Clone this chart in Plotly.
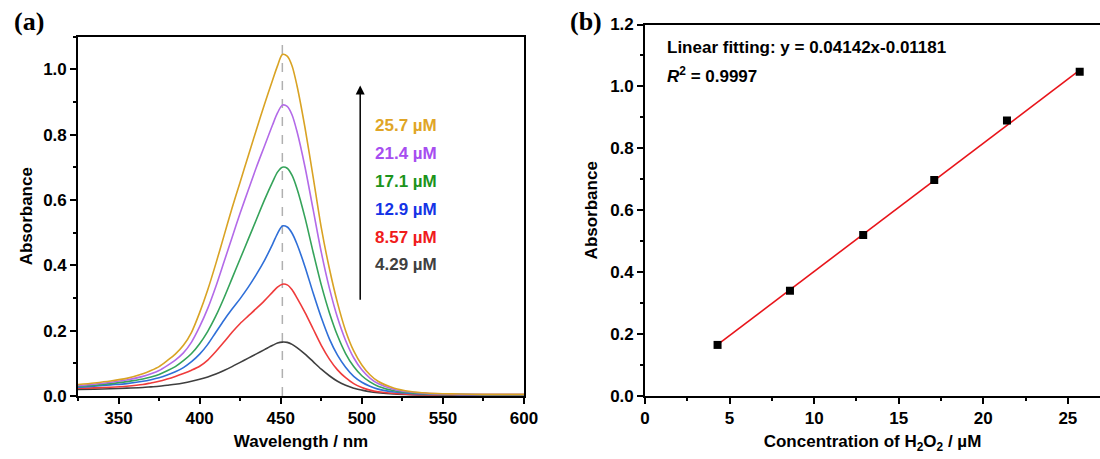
import plotly.graph_objects as go

# ---------------- data ----------------
wavelength = [325, 335, 345, 355, 365, 370, 375, 380, 385, 390, 395, 400, 405, 410, 415, 420,
              425, 430, 435, 440, 445, 448, 451, 454, 457, 460, 465, 470, 475, 480, 485, 490,
              495, 500, 505, 510, 520, 530, 540, 550, 560, 575, 590, 600]

abs_4_29 = [0.020, 0.021, 0.022, 0.024, 0.026, 0.028, 0.030, 0.033, 0.036, 0.040, 0.045, 0.051,
            0.058, 0.067, 0.078, 0.090, 0.103, 0.116, 0.129, 0.142, 0.155, 0.162, 0.165, 0.164,
            0.158, 0.148, 0.128, 0.105, 0.082, 0.062, 0.045, 0.033, 0.024, 0.018, 0.013, 0.010,
            0.006, 0.004, 0.003, 0.003, 0.002, 0.002, 0.002, 0.002]
abs_8_57 = [0.024, 0.025, 0.027, 0.030, 0.035, 0.040, 0.045, 0.052, 0.060, 0.069, 0.079, 0.091,
            0.110, 0.136, 0.165, 0.195, 0.222, 0.245, 0.268, 0.292, 0.318, 0.333, 0.342, 0.340,
            0.325, 0.300, 0.255, 0.205, 0.155, 0.113, 0.080, 0.056, 0.038, 0.026, 0.018, 0.013,
            0.008, 0.005, 0.004, 0.004, 0.003, 0.003, 0.003, 0.003]
abs_12_9 = [0.027, 0.030, 0.034, 0.038, 0.045, 0.050, 0.056, 0.064, 0.074, 0.087, 0.105, 0.128,
            0.158, 0.195, 0.232, 0.266, 0.298, 0.333, 0.372, 0.415, 0.465, 0.497, 0.520, 0.517,
            0.498, 0.465, 0.395, 0.315, 0.240, 0.175, 0.125, 0.088, 0.060, 0.042, 0.030, 0.021,
            0.012, 0.008, 0.006, 0.005, 0.004, 0.004, 0.004, 0.004]
abs_17_1 = [0.030, 0.033, 0.038, 0.044, 0.052, 0.058, 0.066, 0.077, 0.090, 0.108, 0.130, 0.160,
            0.198, 0.245, 0.300, 0.360, 0.420, 0.480, 0.540, 0.600, 0.655, 0.685, 0.700, 0.697,
            0.675, 0.635, 0.545, 0.440, 0.340, 0.255, 0.185, 0.130, 0.090, 0.062, 0.043, 0.030,
            0.016, 0.010, 0.007, 0.005, 0.005, 0.004, 0.004, 0.004]
abs_21_4 = [0.032, 0.036, 0.042, 0.049, 0.060, 0.068, 0.078, 0.093, 0.110, 0.132, 0.165, 0.212,
            0.268, 0.335, 0.410, 0.485, 0.560, 0.630, 0.700, 0.765, 0.830, 0.866, 0.890, 0.886,
            0.860, 0.810, 0.700, 0.570, 0.440, 0.330, 0.240, 0.170, 0.117, 0.080, 0.055, 0.038,
            0.020, 0.012, 0.008, 0.006, 0.005, 0.005, 0.005, 0.005]
abs_25_7 = [0.035, 0.040, 0.046, 0.054, 0.068, 0.078, 0.090, 0.108, 0.128, 0.155, 0.195, 0.255,
            0.325, 0.405, 0.490, 0.575, 0.655, 0.735, 0.815, 0.893, 0.967, 1.010, 1.045, 1.040,
            1.010, 0.950, 0.820, 0.670, 0.515, 0.390, 0.285, 0.200, 0.138, 0.095, 0.065, 0.045,
            0.024, 0.014, 0.009, 0.007, 0.006, 0.005, 0.005, 0.005]

series_labels = ["4.29 µM", "8.57 µM", "12.9 µM", "17.1 µM", "21.4 µM", "25.7 µM"]
series_values = [abs_4_29, abs_8_57, abs_12_9, abs_17_1, abs_21_4, abs_25_7]
line_colors = ["#3f3f3f", "#ef3b3b", "#2f6fd8", "#35a35a", "#b36ae8", "#d9a324"]
text_colors = ["#404040", "#f01c1c", "#1433e6", "#1b941b", "#a64df0", "#e0a526"]

peak_wavelength = 451

concentration = [4.29, 8.57, 12.9, 17.1, 21.4, 25.7]
absorbance_at_peak = [0.165, 0.340, 0.520, 0.698, 0.890, 1.047]
fit_slope = 0.04142
fit_intercept = -0.01181

FONT = "Liberation Sans, Arial, sans-serif"
W, H = 1100, 459

fig = go.Figure()

# ---------------- panel (a) ----------------
for lab, vals, col in zip(series_labels, series_values, line_colors):
    fig.add_trace(go.Scatter(x=wavelength, y=vals, mode="lines", name=lab,
                             line=dict(color=col, width=1.6, shape="spline", smoothing=0.8),
                             xaxis="x", yaxis="y", showlegend=False))

# ---------------- panel (b) ----------------
fit_x = [concentration[0], concentration[-1]]
fit_y = [fit_slope * v + fit_intercept for v in fit_x]
fig.add_trace(go.Scatter(x=fit_x, y=fit_y, mode="lines", line=dict(color="#e8141a", width=1.6),
                         xaxis="x2", yaxis="y2", showlegend=False))
fig.add_trace(go.Scatter(x=concentration, y=absorbance_at_peak, mode="markers",
                         marker=dict(symbol="square", size=8, color="black"),
                         xaxis="x2", yaxis="y2", showlegend=False))

ya_dom = [1 - 396 / H, 1 - 36.5 / H]
yb_dom = [1 - 396 / H, 1 - 24.5 / H]

tickfont = dict(family=FONT, size=17, color="black", weight="bold")
titlefont = dict(family=FONT, size=17, color="black", weight="bold")
minor_style = dict(ticks="outside", ticklen=3, tickwidth=1.5, tickcolor="black")
common = dict(showline=True, linecolor="black", linewidth=1.6, ticks="outside", ticklen=6,
              tickwidth=1.5, tickcolor="black", showgrid=False, zeroline=False,
              tickfont=tickfont, automargin=False)

fig.update_layout(
    width=W, height=H, margin=dict(l=0, r=0, t=0, b=0),
    paper_bgcolor="white", plot_bgcolor="white",
    xaxis=dict(domain=[78 / W, 524 / W], range=[325, 600], dtick=50, tick0=350,
               mirror=True, anchor="y", minor=dict(dtick=25, tick0=325, **minor_style),
               title=dict(text="Wavelength / nm", font=titlefont, standoff=8), **common),
    yaxis=dict(domain=ya_dom, range=[0, 1.1], dtick=0.2, tickformat=".1f", mirror=True, anchor="x",
               minor=dict(dtick=0.1, **minor_style),
               title=dict(text="Absorbance", font=titlefont, standoff=6), **common),
    xaxis2=dict(domain=[645 / W, 1.0], range=[0, 26.9], dtick=5, mirror=True, anchor="y2",
                minor=dict(dtick=2.5, **minor_style),
                title=dict(text="Concentration of H<sub>2</sub>O<sub>2</sub> / µM",
                           font=titlefont, standoff=8), **common),
    yaxis2=dict(domain=yb_dom, range=[0, 1.2], dtick=0.2, tickformat=".1f", anchor="x2",
                minor=dict(dtick=0.1, **minor_style),
                title=dict(text="Absorbance", font=titlefont, standoff=8), **common),
)

# dashed peak line
fig.add_shape(type="line", xref="x", yref="y", x0=peak_wavelength, x1=peak_wavelength,
              y0=0, y1=1.1, line=dict(color="#b0b0b0", width=1.5, dash="dash"), layer="below")

# arrow
fig.add_annotation(xref="x", yref="y", axref="x", ayref="y", x=499, y=0.95, ax=499, ay=0.29,
                   text="", showarrow=True, arrowhead=2, arrowsize=1.2, arrowwidth=1.5,
                   arrowcolor="black")

# concentration labels
label_y = [0.403, 0.486, 0.571, 0.657, 0.743, 0.829]
for lab, col, yy in zip(series_labels, text_colors, label_y):
    fig.add_annotation(xref="x", yref="y", x=507, y=yy, text=f"<b>{lab}</b>", showarrow=False,
                       xanchor="left", yanchor="middle", font=dict(family=FONT, size=17, color=col))

# panel letters
for letter, px in (("(a)", 12), ("(b)", 568)):
    fig.add_annotation(xref="paper", yref="paper", x=px / W, y=1 - 22 / H, text=f"<b>{letter}</b>",
                       showarrow=False, xanchor="left", yanchor="middle",
                       font=dict(family="Liberation Serif, Times New Roman, serif", size=26, color="black"))

# fit text
fig.add_annotation(xref="paper", yref="paper", x=665 / W, y=1 - 47 / H,
                   text="<b>Linear fitting: y = 0.04142x-0.01181</b>", showarrow=False,
                   xanchor="left", yanchor="middle", font=dict(family=FONT, size=17, color="black"))
fig.add_annotation(xref="paper", yref="paper", x=665 / W, y=1 - 75 / H,
                   text="<b><i>R</i><sup>2</sup> = 0.9997</b>", showarrow=False,
                   xanchor="left", yanchor="middle", font=dict(family=FONT, size=17, color="black"))

fig.write_html("out.html")
